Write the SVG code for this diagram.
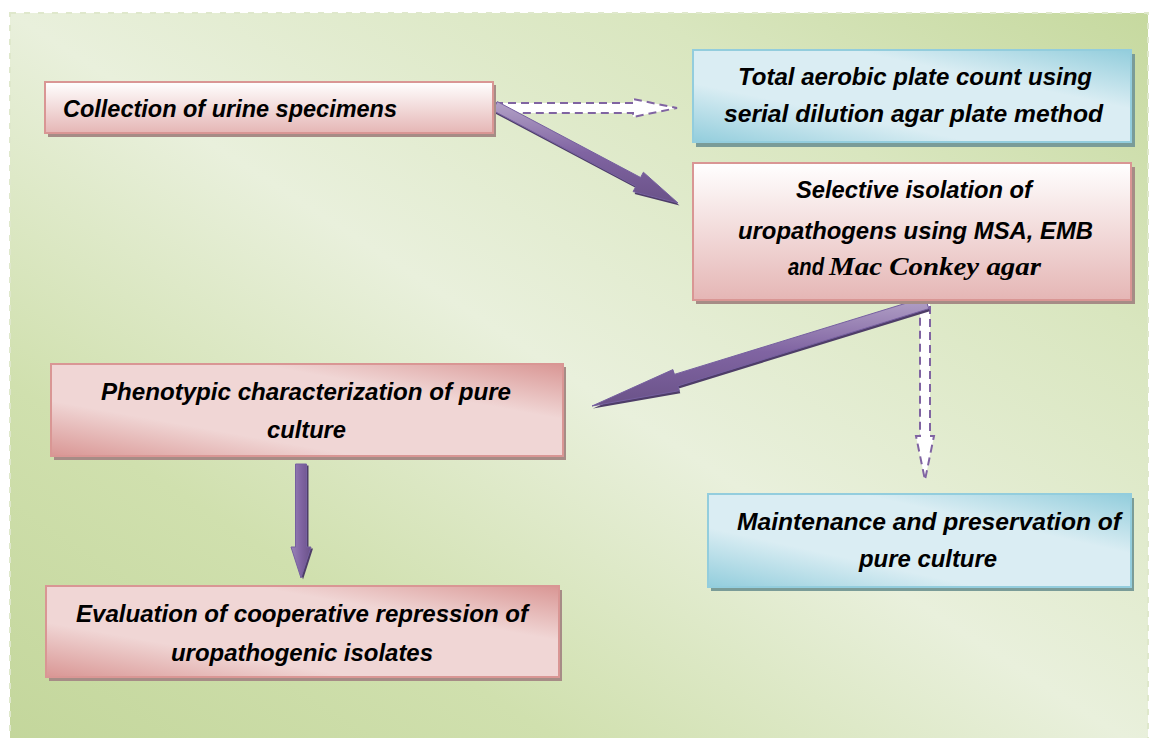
<svg xmlns="http://www.w3.org/2000/svg" width="1150" height="738" viewBox="0 0 1150 738">
<defs>
<linearGradient id="bg" x1="0" y1="1" x2="1" y2="0">
<stop offset="0" stop-color="#c3d69b"/>
<stop offset="0.25" stop-color="#d0e0ae"/>
<stop offset="0.5" stop-color="#e9f0dc"/>
<stop offset="0.78" stop-color="#d9e6bf"/>
<stop offset="1" stop-color="#c6d99f"/>
</linearGradient>
<linearGradient id="pinkV" x1="0" y1="0" x2="0" y2="1">
<stop offset="0" stop-color="#ffffff"/>
<stop offset="1" stop-color="#e5b6b5"/>
</linearGradient>
<linearGradient id="pinkD" x1="0" y1="1" x2="1" y2="0">
<stop offset="0" stop-color="#d99694"/>
<stop offset="0.3" stop-color="#f0d6d5"/>
<stop offset="0.7" stop-color="#f0d6d5"/>
<stop offset="1" stop-color="#d99694"/>
</linearGradient>
<linearGradient id="blueD" x1="0" y1="1" x2="1" y2="0">
<stop offset="0" stop-color="#92cddc"/>
<stop offset="0.32" stop-color="#daedf3"/>
<stop offset="0.68" stop-color="#daedf3"/>
<stop offset="1" stop-color="#92cddc"/>
</linearGradient>
<linearGradient id="arrowG" x1="0" y1="0" x2="0" y2="1">
<stop offset="0" stop-color="#b3a2c7"/>
<stop offset="0.5" stop-color="#8064a2"/>
<stop offset="1" stop-color="#6a5288"/>
</linearGradient>
<linearGradient id="arrowV" x1="0" y1="0" x2="1" y2="0">
<stop offset="0" stop-color="#9a86b8"/>
<stop offset="0.5" stop-color="#8064a2"/>
<stop offset="1" stop-color="#6a5288"/>
</linearGradient>
</defs>
<style>
.t{font-family:"Liberation Sans",Arial,sans-serif;font-weight:bold;font-style:italic;font-size:24px;fill:#000}
.ts{font-family:"Liberation Serif","Times New Roman",serif;font-weight:bold;font-style:italic;font-size:25px}
.pshadow{fill:#a68c86}
.bshadow{fill:#7a9c98}
.pinkv{fill:url(#pinkV);stroke:#d99694;stroke-width:2}
.pinkd{fill:url(#pinkD);stroke:#d99694;stroke-width:2}
.blued{fill:url(#blueD);stroke:#93cddd;stroke-width:2}
.solid{fill:url(#arrowG);stroke:#7660a0;stroke-width:1}
.solidshadow{fill:#4e3d68}
.dash{fill:#ffffff;stroke:#8064a2;stroke-width:2;stroke-dasharray:8 5}
</style>
<rect x="0" y="0" width="1150" height="738" fill="#ffffff"/>
<rect x="10" y="13" width="1138" height="740" fill="url(#bg)" stroke="#dfe8cc" stroke-width="2" stroke-dasharray="6 8"/>

<g id="connectors">
<polygon class="dash" points="495,103 633,103 633,99 677,108 633,117 633,113 495,113"/>
<polygon class="solidshadow" transform="translate(1.5,2.5)" points="492.7,110.4 635.9,186.3 633.1,191.6 678,203 643.4,172.2 640.6,177.5 497.3,101.6"/>
<polygon class="solid" points="492.7,110.4 635.9,186.3 633.1,191.6 678,203 643.4,172.2 640.6,177.5 497.3,101.6"/>
<polygon class="dash" points="920,303 930,303 930,436 934,436 925,480 916,436 920,436"/>
<polygon class="solidshadow" transform="translate(1,2.5)" points="925.2,297.3 674.3,374.4 672.9,369.6 592,406 679.3,390.7 677.9,385.9 928.8,308.7"/>
<polygon class="solid" points="925.2,297.3 674.3,374.4 672.9,369.6 592,406 679.3,390.7 677.9,385.9 928.8,308.7"/>
<polygon class="solidshadow" transform="translate(2,1.5)" points="295.5,464 306.5,464 306.5,547 311,547 301,578 291,547 295.5,547"/>
<polygon points="295.5,464 306.5,464 306.5,547 311,547 301,578 291,547 295.5,547" fill="url(#arrowV)" stroke="#7660a0" stroke-width="1"/>
</g>

<g id="n1">
<rect class="pshadow" x="48" y="85" width="448" height="52"/>
<rect class="pinkv" x="45" y="82" width="448" height="51"/>
<text class="t" x="63" y="117" textLength="334" lengthAdjust="spacingAndGlyphs">Collection of urine specimens</text>
</g>

<g id="n2">
<rect class="bshadow" x="696" y="54" width="439" height="93"/>
<rect class="blued" x="693" y="50" width="438" height="92"/>
<text class="t" x="738" y="85" textLength="354" lengthAdjust="spacingAndGlyphs">Total aerobic plate count using</text>
<text class="t" x="724" y="122" textLength="379" lengthAdjust="spacingAndGlyphs">serial dilution agar plate method</text>
</g>

<g id="n3">
<rect class="pshadow" x="696" y="167" width="439" height="137"/>
<rect class="pinkv" x="693" y="163" width="438" height="137"/>
<text class="t" x="796" y="198" textLength="236" lengthAdjust="spacingAndGlyphs">Selective isolation of</text>
<text class="t" x="738" y="239" textLength="355" lengthAdjust="spacingAndGlyphs">uropathogens using MSA, EMB</text>
<text class="t" x="788" y="275" textLength="36" lengthAdjust="spacingAndGlyphs">and</text>
<text class="t ts" x="829" y="275" textLength="212" lengthAdjust="spacingAndGlyphs">Mac Conkey agar</text>
</g>

<g id="n4">
<rect class="pshadow" x="54" y="367" width="512" height="93"/>
<rect class="pinkd" x="51" y="364" width="512" height="92"/>
<text class="t" x="101" y="400" textLength="410" lengthAdjust="spacingAndGlyphs">Phenotypic characterization of pure</text>
<text class="t" x="267" y="438" textLength="79" lengthAdjust="spacingAndGlyphs">culture</text>
</g>

<g id="n5">
<rect class="pshadow" x="49" y="590" width="513" height="91"/>
<rect class="pinkd" x="46" y="586" width="513" height="91"/>
<text class="t" x="76" y="622" textLength="452" lengthAdjust="spacingAndGlyphs">Evaluation of cooperative repression of</text>
<text class="t" x="171" y="661" textLength="262" lengthAdjust="spacingAndGlyphs">uropathogenic isolates</text>
</g>

<g id="n6">
<rect class="bshadow" x="711" y="498" width="423" height="93"/>
<rect class="blued" x="708" y="494" width="423" height="93"/>
<text class="t" x="737" y="530" textLength="384" lengthAdjust="spacingAndGlyphs">Maintenance and preservation of</text>
<text class="t" x="859" y="567" textLength="138" lengthAdjust="spacingAndGlyphs">pure culture</text>
</g>
</svg>
